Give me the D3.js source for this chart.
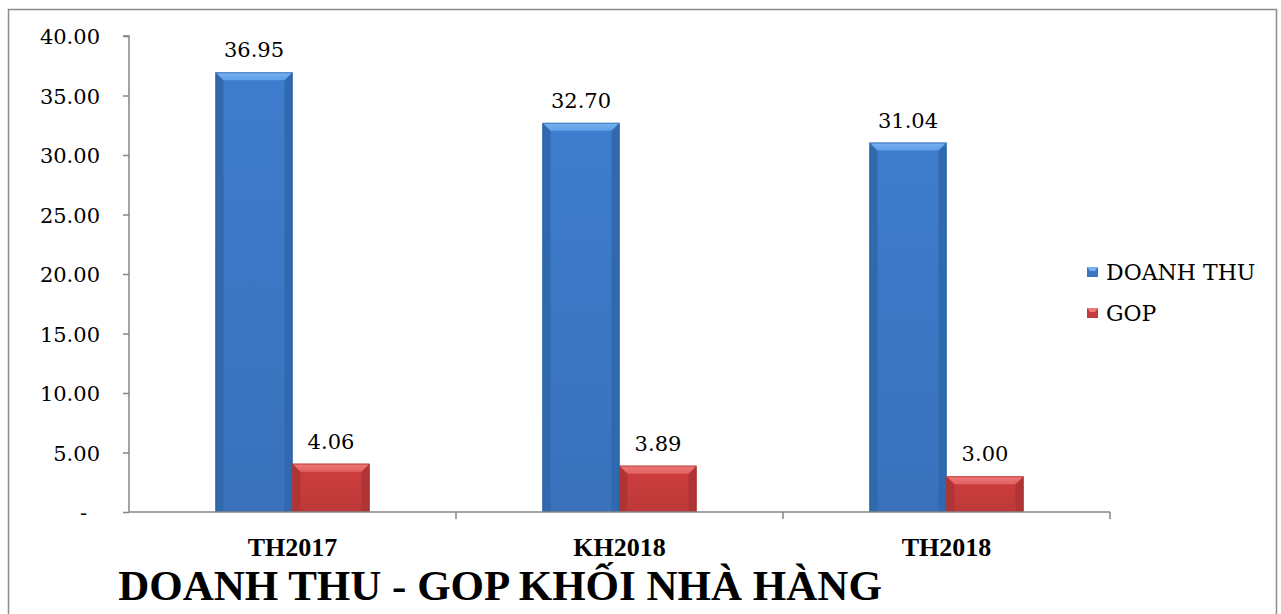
<!DOCTYPE html>
<html><head><meta charset="utf-8">
<script src="https://cdn.jsdelivr.net/npm/d3@7"></script>
<style>body{margin:0;background:#fff}svg{display:block}</style>
</head><body><svg id="c" width="1281" height="614"></svg>
<script>
const categories = ["TH2017", "KH2018", "TH2018"];
const seriesNames = ["DOANH THU", "GOP"];
const doanhThu = [36.95, 32.70, 31.04];
const gop = [4.06, 3.89, 3.00];
const yTicks = [0, 5, 10, 15, 20, 25, 30, 35, 40];
const title = "DOANH THU - GOP KHỐI NHÀ HÀNG";

const FONT = 'DejaVu Serif, serif';
const BFONT = 'Liberation Serif, serif';
const FS = 21;
const svg = d3.select("#c");
svg.append("rect").attr("x", 8.5).attr("y", 9.5).attr("width", 1268).attr("height", 620)
  .attr("fill", "#fff").attr("stroke", "#8c8c8c").attr("stroke-width", 1.5);

const x0 = 129, x1 = 1110, yTop = 36, yBot = 512;
const x = d3.scaleBand().domain(categories).range([x0, x1]).paddingInner(0).paddingOuter(0);
const y = d3.scaleLinear().domain([0, 40]).range([yBot, yTop]);
const groupW = 154;
const xs = d3.scaleBand().domain(seriesNames).range([0, groupW]);

const palettes = {
  "DOANH THU": {main: "#3b76c2", top: "#5e9ee6", topLight: "#78b2f0", side: "#3169ae", edge: "#2b5c9a"},
  "GOP": {main: "#c43b3b", top: "#e26060", topLight: "#ee7a78", side: "#b13434", edge: "#9c2e2e"}
};

const defs = svg.append("defs");
seriesNames.forEach((s, i) => {
  const p = palettes[s];
  const g = defs.append("linearGradient").attr("id", "g" + i).attr("x1", 0).attr("x2", 0).attr("y1", 0).attr("y2", 1);
  g.append("stop").attr("offset", "0%").attr("stop-color", d3.color(p.main).brighter(0.15));
  g.append("stop").attr("offset", "100%").attr("stop-color", d3.color(p.main).darker(0.1));
  const t = defs.append("linearGradient").attr("id", "t" + i).attr("x1", 0).attr("x2", 0).attr("y1", 0).attr("y2", 1);
  t.append("stop").attr("offset", "0%").attr("stop-color", p.topLight);
  t.append("stop").attr("offset", "100%").attr("stop-color", p.top);
});

function txt(sel) { return sel.attr("font-family", FONT).style("font-family", FONT).style("font-weight", "400").attr("fill", "#000"); }
function btxt(sel) { return sel.attr("font-family", BFONT).style("font-family", BFONT).style("font-weight", "700").attr("fill", "#000"); }

// y axis
const yAxis = d3.axisLeft(y).tickValues(yTicks).tickSize(6)
  .tickFormat(d => d === 0 ? "-" : d3.format(".2f")(d));
const ga = svg.append("g").attr("transform", `translate(${x0},0)`).call(yAxis).attr("font-family", null);
ga.select(".domain").attr("stroke", "#868686").attr("stroke-width", 1.5).attr("d", `M-6,${yTop}H0V${yBot}`);
ga.selectAll(".tick line").attr("stroke", "#868686").attr("stroke-width", 1.5);
txt(ga.selectAll(".tick text")).attr("x", d => d === 0 ? -42 : -29).attr("font-size", FS).attr("dy", "0.36em");

const data = categories.map((c, i) => ({c, vals: [{s: seriesNames[0], v: doanhThu[i], i: 0}, {s: seriesNames[1], v: gop[i], i: 1}]}));

const groups = svg.append("g").selectAll("g").data(data).join("g")
  .attr("transform", d => `translate(${x(d.c) + (x.bandwidth() - groupW) / 2},0)`);

const bars = groups.selectAll("g.bar").data(d => d.vals).join("g").attr("class", "bar");
bars.each(function(d) {
  const g = d3.select(this);
  const bx = xs(d.s), bw = xs.bandwidth(), by = y(d.v), bh = yBot - by;
  const p = palettes[d.s];
  const bev = Math.min(8, bh / 2);
  g.append("rect").attr("x", bx).attr("y", by).attr("width", bw).attr("height", bh).attr("fill", `url(#g${d.i})`);
  g.append("path").attr("d", `M${bx},${by}L${bx + bev},${by + bev}L${bx + bev},${yBot}L${bx},${yBot}Z`).attr("fill", p.side);
  g.append("path").attr("d", `M${bx + bw},${by}L${bx + bw - bev},${by + bev}L${bx + bw - bev},${yBot}L${bx + bw},${yBot}Z`).attr("fill", p.side);
  g.append("path").attr("d", `M${bx},${by}L${bx + bw},${by}L${bx + bw - bev},${by + bev}L${bx + bev},${by + bev}Z`).attr("fill", `url(#t${d.i})`);
  g.append("rect").attr("x", bx + 0.5).attr("y", by + 0.5).attr("width", bw - 1).attr("height", bh - 1)
    .attr("fill", "none").attr("stroke", p.edge).attr("stroke-width", 1).attr("opacity", 0.6);
  txt(g.append("text")).attr("x", bx + bw / 2).attr("y", by - 15).attr("text-anchor", "middle")
    .attr("font-size", FS).text(d3.format(".2f")(d.v));
});

// x axis
const xAxis = d3.axisBottom(x).tickSize(0).tickFormat("");
const gx = svg.append("g").attr("transform", `translate(0,${yBot})`).call(xAxis);
gx.select(".domain").attr("stroke", "#868686").attr("stroke-width", 1.5).attr("d", `M${x0},0H${x1}`);
const dividers = categories.map(c => x(c) + x.bandwidth());
svg.append("g").selectAll("line").data(dividers).join("line")
  .attr("x1", d => d).attr("x2", d => d).attr("y1", yBot).attr("y2", yBot + 7)
  .attr("stroke", "#868686").attr("stroke-width", 1.5);
btxt(svg.append("g").selectAll("text").data(categories).join("text"))
  .attr("x", d => x(d) + x.bandwidth() / 2).attr("y", 556).attr("text-anchor", "middle")
  .attr("font-size", 26).text(d => d);

// legend
const leg = svg.append("g").attr("transform", "translate(1087,272)");
seriesNames.forEach((s, i) => {
  const p = palettes[s];
  const lg = leg.append("g").attr("transform", `translate(0,${i * 41})`);
  lg.append("rect").attr("x", 0).attr("y", -5).attr("width", 11).attr("height", 10).attr("fill", p.main);
  lg.append("path").attr("d", "M0,-5H11L8,-1H3Z").attr("fill", p.topLight);
  txt(lg.append("text")).attr("x", 19).attr("y", 0).attr("dy", "0.36em").attr("font-size", 22).text(s);
});

btxt(svg.append("text")).attr("x", 500).attr("y", 600).attr("text-anchor", "middle")
  .attr("font-size", 43).text(title);
</script></body></html>
